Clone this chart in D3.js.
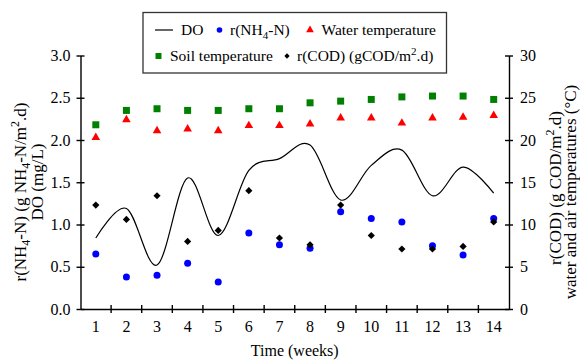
<!DOCTYPE html>
<html>
<head>
<meta charset="utf-8">
<script src="https://cdn.jsdelivr.net/npm/d3@7"></script>
</head>
<body style="margin:0;padding:0;background:#fff">
<svg id="chart" width="580" height="360" style="display:block"></svg>
<script>
// ---- data ----
const weeks = [1, 2, 3, 4, 5, 6, 7, 8, 9, 10, 11, 12, 13, 14];
const doValues = [0.84, 1.19, 0.52, 1.55, 0.87, 1.64, 1.78, 1.94, 1.29, 1.70, 1.88, 1.34, 1.68, 1.37];
const nh4Rate = [0.65, 0.38, 0.40, 0.54, 0.32, 0.90, 0.76, 0.72, 1.15, 1.07, 1.03, 0.75, 0.64, 1.07];
const waterTemp = [20.3, 22.4, 21.1, 21.3, 21.1, 21.7, 21.7, 21.9, 22.6, 22.6, 22.0, 22.6, 22.7, 22.9];
const soilTemp = [21.8, 23.5, 23.7, 23.5, 23.5, 23.7, 23.7, 24.4, 24.6, 24.8, 25.1, 25.2, 25.2, 24.8];
const codRate = [12.3, 10.6, 13.4, 8.0, 9.3, 14.0, 8.4, 7.6, 12.3, 8.7, 7.1, 7.1, 7.4, 10.3];
const leftTicks = [0, 0.5, 1.0, 1.5, 2.0, 2.5, 3.0];
const rightTicks = [0, 5, 10, 15, 20, 25, 30];

const FONT = "'Liberation Serif', 'Times New Roman', serif";
const svg = d3.select("#chart").style("font-family", FONT);
const L = 80.5, R = 509, T = 55.5, B = 309;

const x = d3.scaleBand().domain(weeks).range([L, R]).paddingInner(0).paddingOuter(0);
const cx = d => x(d) + x.bandwidth() / 2;
const yL = d3.scaleLinear().domain([0, 3]).range([B, T]);
const yR = d3.scaleLinear().domain([0, 30]).range([B, T]);

const fs = 16, tfs = "17px";
function txt(sel) { return sel.style("font-family", FONT).attr("fill", "#000"); }

// ---- axes ----
const axL = svg.append("g").attr("transform", `translate(${L},0)`)
  .call(d3.axisLeft(yL).tickValues(leftTicks).tickFormat(d3.format(".1f")).tickSizeInner(4).tickSizeOuter(0).tickPadding(6));
axL.selectAll(".tick line").attr("x1", 4);
const axR = svg.append("g").attr("transform", `translate(${R},0)`)
  .call(d3.axisRight(yR).tickValues(rightTicks).tickSizeInner(4).tickSizeOuter(0).tickPadding(7));
axR.selectAll(".tick line").attr("x1", -4);
const axB = svg.append("g").attr("transform", `translate(0,${B})`)
  .call(d3.axisBottom(x).tickSize(0).tickPadding(12));
axB.selectAll(".bound").data(weeks.slice(0, -1)).enter().append("line")
  .attr("class", "bound")
  .attr("x1", d => x(d) + x.bandwidth()).attr("x2", d => x(d) + x.bandwidth())
  .attr("y1", -4).attr("y2", 4);

[axL, axR, axB].forEach(g => {
  g.attr("font-family", null).attr("font-size", null);
  g.selectAll("path.domain").attr("stroke", "#000").attr("stroke-width", 1.4);
  g.selectAll("line").attr("stroke", "#000").attr("stroke-width", 1.4);
  txt(g.selectAll("text")).style("font-size", fs + "px");
});

// ---- axis titles ----
txt(svg.append("text")).attr("x", (L + R) / 2).attr("y", 356).attr("text-anchor", "middle")
  .style("font-size", fs + "px").text("Time (weeks)");

const lt1 = txt(svg.append("text")).attr("transform", `translate(26,192) rotate(-90)`)
  .attr("text-anchor", "middle").style("font-size", tfs);
lt1.append("tspan").text("r(NH");
lt1.append("tspan").style("font-size", "12px").attr("dy", 4).text("4");
lt1.append("tspan").attr("dy", -4).text("-N) (g NH");
lt1.append("tspan").style("font-size", "12px").attr("dy", 4).text("4");
lt1.append("tspan").attr("dy", -4).text("-N/m");
lt1.append("tspan").style("font-size", "12px").attr("dy", -7).text("2");
lt1.append("tspan").attr("dy", 7).text(".d)");
txt(svg.append("text")).attr("transform", `translate(43,182) rotate(-90)`)
  .attr("text-anchor", "middle").style("font-size", tfs).text("DO (mg/L)");

const rt1 = txt(svg.append("text")).attr("transform", `translate(561,188) rotate(-90)`)
  .attr("text-anchor", "middle").style("font-size", tfs);
rt1.append("tspan").text("r(COD) (g COD/m");
rt1.append("tspan").style("font-size", "12px").attr("dy", -7).text("2");
rt1.append("tspan").attr("dy", 7).text(".d)");
txt(svg.append("text")).attr("transform", `translate(575.5,192) rotate(-90)`)
  .attr("text-anchor", "middle").style("font-size", tfs).text("water and air temperatures (°C)");

// ---- series ----
const idx = d3.range(weeks.length);
const line = d3.line().x(i => cx(weeks[i])).y(i => yL(doValues[i])).curve(d3.curveCardinal.tension(0));
svg.append("path").attr("d", line(idx)).attr("fill", "none").attr("stroke", "#000").attr("stroke-width", 1.2);

const sq = d3.symbol().type(d3.symbolSquare).size(49);
const tri = d3.symbol().type(d3.symbolTriangle).size(32);
const dia = d3.symbol().type(d3.symbolSquare).size(26);

svg.append("g").selectAll("path").data(idx).enter().append("path")
  .attr("d", sq).attr("transform", i => `translate(${cx(weeks[i])},${yR(soilTemp[i])})`).attr("fill", "#008000");
svg.append("g").selectAll("path").data(idx).enter().append("path")
  .attr("d", tri).attr("transform", i => `translate(${cx(weeks[i])},${yR(waterTemp[i])})`).attr("fill", "#ff0000");
svg.append("g").selectAll("circle").data(idx).enter().append("circle")
  .attr("cx", i => cx(weeks[i])).attr("cy", i => yL(nh4Rate[i])).attr("r", 3.5).attr("fill", "#0000ff");
svg.append("g").selectAll("path").data(idx).enter().append("path")
  .attr("d", dia).attr("transform", i => `translate(${cx(weeks[i])},${yR(codRate[i])}) rotate(45)`).attr("fill", "#000");

// ---- legend ----
const lg = svg.append("g");
lg.append("rect").attr("x", 143).attr("y", 12.5).attr("width", 303.5).attr("height", 60.5)
  .attr("fill", "#fff").attr("stroke", "#333").attr("stroke-width", 1.3);
const lfs = "15.5px";
const r1 = 30, r2 = 56;
lg.append("line").attr("x1", 155).attr("x2", 173).attr("y1", r1).attr("y2", r1).attr("stroke", "#000").attr("stroke-width", 1.2);
txt(lg.append("text")).attr("x", 181).attr("y", r1 + 5.3).style("font-size", lfs).text("DO");
lg.append("circle").attr("cx", 219.5).attr("cy", r1).attr("r", 2.8).attr("fill", "#0000ff");
const ln = txt(lg.append("text")).attr("x", 230).attr("y", r1 + 5.3).style("font-size", lfs);
ln.append("tspan").text("r(NH");
ln.append("tspan").style("font-size", "11px").attr("dy", 4).text("4");
ln.append("tspan").attr("dy", -4).text("-N)");
lg.append("path").attr("d", d3.symbol().type(d3.symbolTriangle).size(26)).attr("transform", `translate(310,${r1})`).attr("fill", "#ff0000");
txt(lg.append("text")).attr("x", 321.5).attr("y", r1 + 5.3).style("font-size", lfs).text("Water temperature");
lg.append("path").attr("d", d3.symbol().type(d3.symbolSquare).size(36)).attr("transform", `translate(158.5,${r2})`).attr("fill", "#008000");
txt(lg.append("text")).attr("x", 170).attr("y", r2 + 5.3).style("font-size", lfs).text("Soil temperature");
lg.append("path").attr("d", d3.symbol().type(d3.symbolSquare).size(14)).attr("transform", `translate(287,${r2}) rotate(45)`).attr("fill", "#000");
const lc = txt(lg.append("text")).attr("x", 297).attr("y", r2 + 5.3).style("font-size", lfs);
lc.append("tspan").text("r(COD) (gCOD/m");
lc.append("tspan").style("font-size", "11px").attr("dy", -6).text("2");
lc.append("tspan").attr("dy", 6).text(".d)");
</script>
</body>
</html>
